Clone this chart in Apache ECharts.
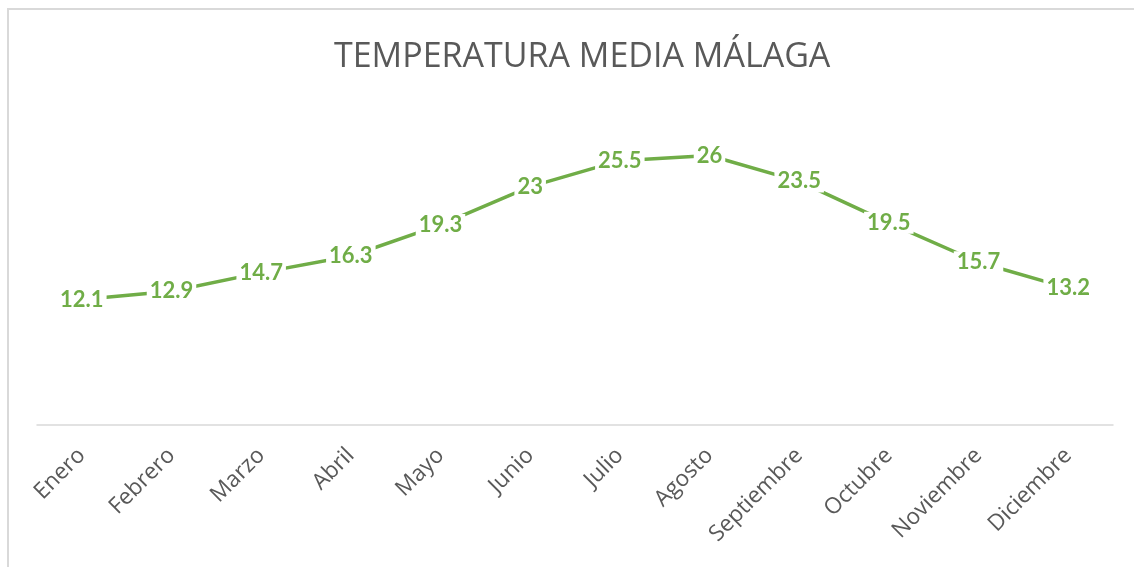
<!DOCTYPE html>
<html>
<head>
<meta charset="utf-8">
<script src="https://cdn.jsdelivr.net/npm/echarts@6/dist/echarts.min.js"></script>
<style>
html,body{margin:0;padding:0;background:#fff;}
#chart{width:1134px;height:567px;}
</style>
</head>
<body>
<div id="chart"></div>
<script>
const titleText = 'TEMPERATURA MEDIA MÁLAGA';
const months = ['Enero','Febrero','Marzo','Abril','Mayo','Junio','Julio','Agosto','Septiembre','Octubre','Noviembre','Diciembre'];
const temps = [12.1, 12.9, 14.7, 16.3, 19.3, 23, 25.5, 26, 23.5, 19.5, 15.7, 13.2];

const chart = echarts.init(document.getElementById('chart'), null, {renderer:'canvas'});
chart.setOption({
  animation: false,
  backgroundColor: '#ffffff',
  title: {
    text: titleText,
    left: 329,
    top: 35,
    textStyle: {fontFamily: 'Open Sans', fontWeight: 'normal', fontSize: 34, color: '#595959'}
  },
  graphic: [{
    type: 'rect',
    shape: {x: 8, y: 9, width: 2000, height: 1000},
    style: {fill: 'none', stroke: '#d9d9d9', lineWidth: 2},
    silent: true
  }],
  grid: {left: 37, right: 21, top: 114, bottom: 142, containLabel: false},
  xAxis: {
    type: 'category',
    data: months,
    boundaryGap: true,
    axisLine: {lineStyle: {color: '#d9d9d9', width: 1.5}},
    axisTick: {show: false},
    axisLabel: {rotate: 45, color: '#595959', fontFamily: 'Open Sans', fontSize: 22.5, margin: 27, interval: 0}
  },
  yAxis: {
    type: 'value',
    min: 0, max: 30,
    show: false,
    splitLine: {show: false}
  },
  series: [{
    type: 'line',
    data: temps,
    symbol: 'circle',
    symbolSize: 2,
    showSymbol: true,
    lineStyle: {color: '#70AD47', width: 3.5},
    itemStyle: {color: '#70AD47'},
    label: {
      show: true,
      position: 'inside',
      color: '#70AD47',
      fontFamily: 'Lato',
      fontWeight: 'bold',
      fontSize: 22,
      backgroundColor: '#ffffff',
      padding: [0, 3]
    }
  }]
});
</script>
</body>
</html>
